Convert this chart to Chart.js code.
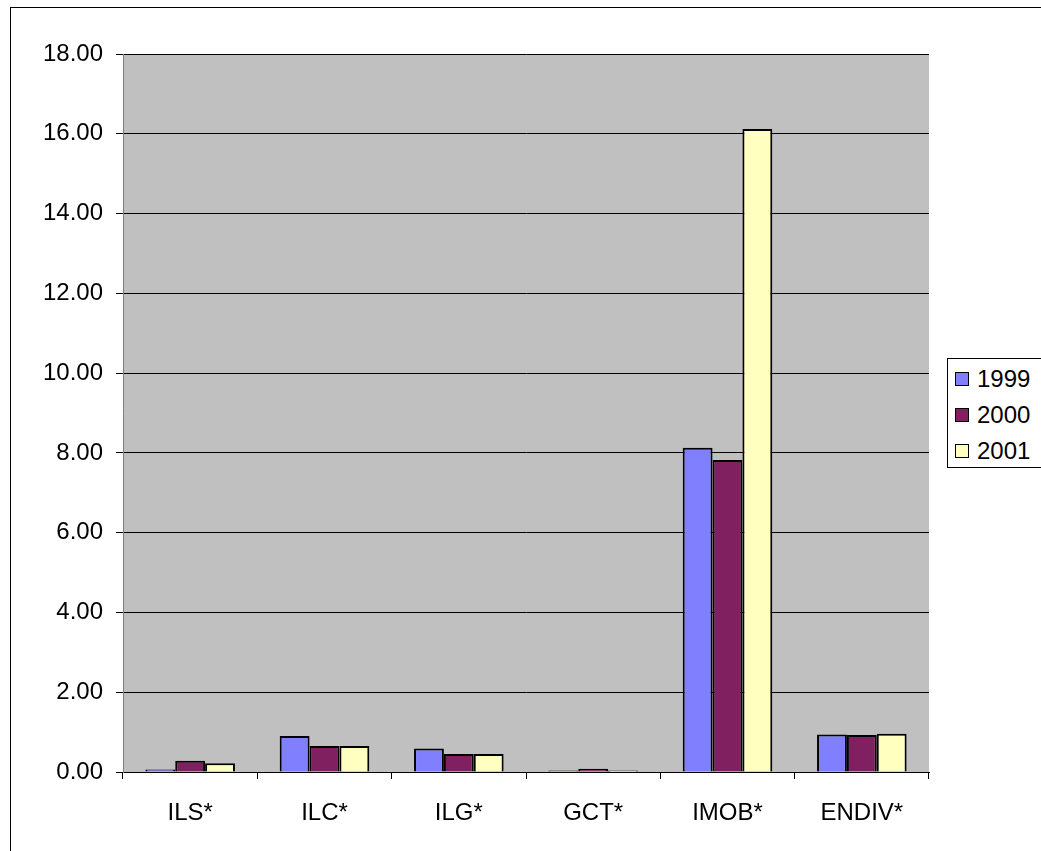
<!DOCTYPE html>
<html>
<head>
<meta charset="utf-8">
<script src="https://cdn.jsdelivr.net/npm/chart.js@4/dist/chart.umd.min.js"></script>
<style>
  html, body { margin: 0; padding: 0; background: #fff; }
  #wrap { position: relative; width: 1041px; height: 851px; overflow: hidden; }
  #frame { position: absolute; left: 10px; top: 7px; width: 1100px; height: 900px;
           border-left: 1px solid #000; border-top: 1px solid #000; }
  canvas { position: absolute; left: 0; top: 0; }
  #legenda { position: absolute; left: 947px; top: 358px; width: 93px; height: 108px;
             border: 1px solid #000; background: #fff; font-family: Arial, "Liberation Sans", sans-serif;
             font-size: 24px; color: #000; }
  .item { position: absolute; left: 7px; height: 26px; line-height: 26px; white-space: nowrap; }
  .item span { display: inline-block; width: 12px; height: 12px; border: 1px solid #000;
               vertical-align: 1px; margin-right: 8px; }
</style>
</head>
<body>
<div id="wrap">
  <div id="frame"></div>
  <canvas id="grafico" width="1041" height="851"></canvas>
  <div id="legenda"></div>
</div>
<script>
// indicadores e valores
const categorias = ['ILS*', 'ILC*', 'ILG*', 'GCT*', 'IMOB*', 'ENDIV*'];
const anos = ['1999', '2000', '2001'];
const valores1999 = [0.06, 0.90, 0.59, 0.04, 8.13, 0.94];
const valores2000 = [0.28, 0.65, 0.45, 0.08, 7.82, 0.93];
const valores2001 = [0.22, 0.65, 0.45, 0.04, 16.12, 0.96];
const cores = ['#8080FF', '#802060', '#FFFFC0'];

const fonte = { family: 'Arial, "Liberation Sans", sans-serif', size: 24 };

// fundo cinza da area de plotagem
const fundoPlot = {
    id: 'fundoPlot',
    beforeDraw(chart) {
        const { ctx, chartArea: a } = chart;
        ctx.save();
        ctx.fillStyle = '#C0C0C0';
        ctx.fillRect(a.left, a.top, a.right - a.left, a.bottom - a.top);
        ctx.restore();
    }
};

const series = [valores1999, valores2000, valores2001];

new Chart(document.getElementById('grafico').getContext('2d'), {
    type: 'bar',
    data: {
        labels: categorias,
        datasets: anos.map((ano, i) => ({
            label: ano,
            data: series[i],
            backgroundColor: cores[i],
            borderColor: '#000',
            borderWidth: 2,
            categoryPercentage: 0.667,
            barPercentage: 1
        }))
    },
    options: {
        responsive: false,
        animation: false,
        layout: { padding: { left: 0, top: 54, right: 112, bottom: 0 } },
        plugins: { legend: { display: false }, tooltip: { enabled: false } },
        scales: {
            x: {
                afterFit: s => { s.height = 79; },
                grid: { drawOnChartArea: false, drawTicks: true, tickLength: 7, tickColor: '#000', offset: true },
                border: { color: '#000', width: 1 },
                ticks: { font: fonte, color: '#000', padding: 20 }
            },
            y: {
                min: 0,
                max: 18,
                afterFit: s => { s.width = 123; },
                grid: { color: '#000', lineWidth: 1, tickLength: 7, tickColor: '#000' },
                border: { color: '#808080', width: 1 },
                ticks: {
                    stepSize: 2,
                    font: fonte,
                    color: '#000',
                    padding: 13,
                    callback: v => v.toFixed(2)
                }
            }
        }
    },
    plugins: [fundoPlot]
});

// legenda
const legenda = document.getElementById('legenda');
anos.forEach((ano, i) => {
    const div = document.createElement('div');
    div.className = 'item';
    div.style.top = (7 + i * 36) + 'px';
    div.innerHTML = '<span style="background:' + cores[i] + '"></span>' + ano;
    legenda.appendChild(div);
});
</script>
</body>
</html>
